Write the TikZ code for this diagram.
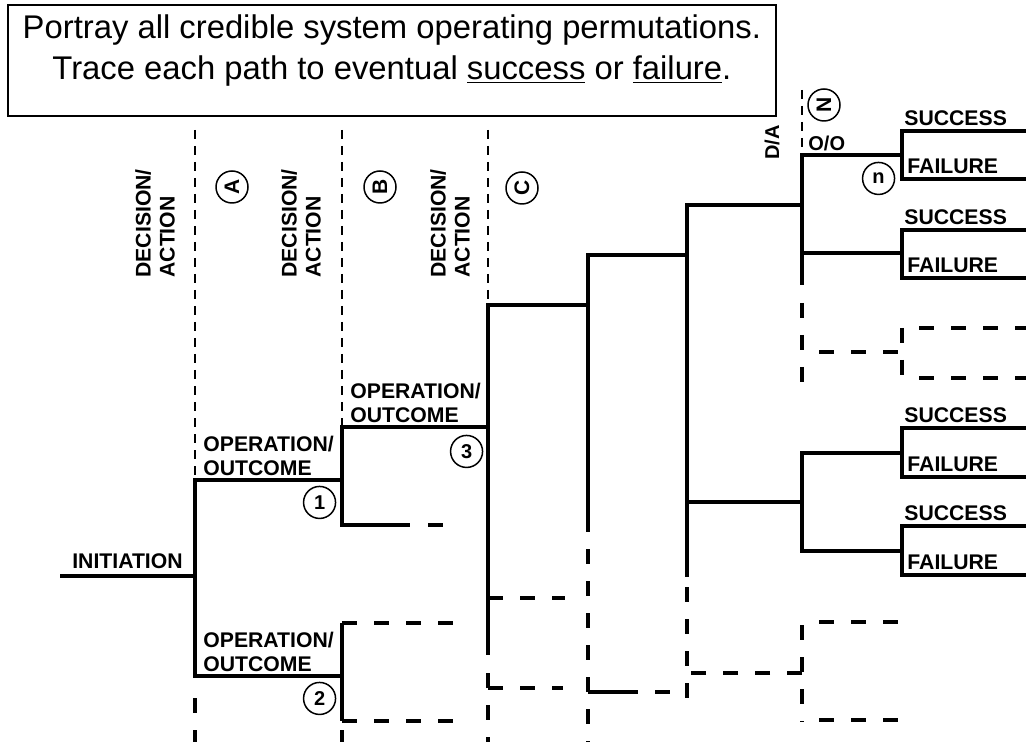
\documentclass[tikz,border=0pt]{standalone}
\usepackage{fontspec}
\setmainfont{Liberation Sans}
\usetikzlibrary{positioning}

\begin{document}
\begin{tikzpicture}[x=0.5pt, y=-0.5pt, every node/.style={font=\fontsize{10.6}{12}\selectfont\bfseries, inner sep=1pt}]
\tikzstyle{branch}=[line width=2pt]
\tikzstyle{cont}=[line width=2pt, dash pattern=on 7.5pt off 8.5pt]
\tikzstyle{guide}=[line width=1.2pt, dash pattern=on 4.5pt off 3.5pt]
\tikzstyle{num}=[draw, circle, line width=0.75pt, minimum size=16pt, inner sep=0pt, font=\fontsize{10}{10}\selectfont\bfseries]
\tikzstyle{letter}=[num, rotate=90, font=\fontsize{10.5}{10.5}\selectfont\bfseries]
\tikzstyle{dalabel}=[rotate=90, anchor=west, align=left]
\tikzstyle{oplabel}=[align=left]
\useasboundingbox (0,0) rectangle (1026,742);

% note box
\node[draw, line width=0.9pt, anchor=north west, minimum width=384pt, minimum height=55.5pt, inner sep=0pt] (note) at (7,4) {};
\node[below=4pt of note.north, align=center, font=\fontsize{16.4}{20.5}\selectfont] (title) {Portray all credible system operating permutations.\\Trace each path to eventual \underline{success} or \underline{failure}.};

% branch points
\coordinate (init) at (60,576);
\coordinate (dA) at (195,576);
\coordinate (oA1) at (195,480);
\coordinate (oA2) at (195,676);
\coordinate (dB1) at (342,480);
\coordinate (dB2) at (342,676);
\coordinate (oB1) at (342,427);
\coordinate (oB2) at (342,525);
\coordinate (oB3) at (342,623);
\coordinate (oB4) at (342,721);
\coordinate (dC) at (488,427);
\coordinate (oC) at (488,305);
\coordinate (dD) at (588,305);
\coordinate (oD) at (588,255);
\coordinate (dE) at (687,255);
\coordinate (oE) at (687,205);
\coordinate (dN1) at (802,205);
\coordinate (dN2) at (802,502);
\coordinate (oN1) at (802,155);
\coordinate (oN2) at (802,253);
\coordinate (oN3) at (802,453);
\coordinate (oN4) at (802,551);
\coordinate (sA) at (902,155);
\coordinate (sB) at (902,253);
\coordinate (sC) at (902,352);
\coordinate (sD) at (902,453);
\coordinate (sE) at (902,551);

% stage lines and labels
\draw[guide] (195,130) -- (oA1);
\draw[guide] (342,130) -- (oB1);
\draw[guide] (488,130) -- (oC);
\draw[guide] (802,90) -- (oN1);
\node[dalabel] (daA) at (155,280) {DECISION/\\ACTION};
\node[dalabel] (daB) at (301,280) {DECISION/\\ACTION};
\node[dalabel] (daC) at (450,280) {DECISION/\\ACTION};
\node[dalabel, font=\fontsize{10}{12}\selectfont\bfseries] (daN) at (772,162) {D/A};
\node[letter] (stA) at (232,187) {A};
\node[letter] (stB) at (380,187) {B};
\node[letter] (stC) at (522,188) {C};
\node[letter] (stN) at (824,105) {N};

% first stages
\draw[branch] (init) -- node[above=1.5pt] (ini) {INITIATION} (dA);
\draw[branch] (dB1) -- (oA1) -- (oA2) -- (dB2);
\node[oplabel, above right=1pt and 3pt of oA1] (opA1) {OPERATION/\\OUTCOME};
\node[oplabel, above right=1pt and 3pt of oA2] (opA2) {OPERATION/\\OUTCOME};
\node[num, below left=5.3pt and 5.3pt of dB1] (n1) {1};
\node[num, below left=5.3pt and 5.3pt of dB2] (n2) {2};
\draw[cont] (195,698) -- (195,745);

\draw[branch] (dC) -- (oB1) -- (oB2) -- ++(68,0);
\draw[cont] (428,525) -- ++(16,0);
\node[oplabel, above right=1pt and 3pt of oB1] (opB) {OPERATION/\\OUTCOME};
\node[num, below left=6.3pt and 4.8pt of dC] (n3) {3};
\draw[branch] (oB3) -- (oB4);
\draw[cont] (oB3) -- ++(116,0);
\draw[cont] (oB4) -- ++(116,0);
\draw[cont] (342,730) -- (342,745);

\draw[branch] (dD) -- (oC) -- (488,655);
\draw[cont] (488,598) -- ++(77,0);
\draw[cont] (488,688) -- (488,673);
\draw[cont] (488,688) -- ++(75,0);
\draw[cont] (488,705) -- (488,745);

\draw[branch] (dE) -- (oD) -- (588,532);
\draw[cont, dash phase=7.5pt] (588,532) -- (588,745);
\draw[branch] (588,692) -- ++(50,0);
\draw[cont] (655,692) -- ++(15,0);

\draw[branch] (dN1) -- (oE) -- (687,577);
\draw[branch] (687,502) -- (dN2);
\draw[cont, dash phase=11pt] (687,577) -- (687,702);
\draw[cont] (802,673) -- (687,673);

% last stage
\draw[branch] (sA) -- (oN1) -- (802,285);
\draw[branch] (oN2) -- (sB);
\node[above right=1pt and 2pt of oN1, font=\fontsize{10}{12}\selectfont\bfseries] (oo) {O/O};
\node[num, below left=5.8pt and 5.8pt of sA] (nn) {n};
\draw[cont, dash phase=8pt] (802,287) -- (802,387);
\draw[cont, dash phase=7.5pt] (802,352) -- (sC);
\draw[branch] (sD) -- (oN3) -- (oN4) -- (sE);
\draw[cont, dash phase=7.5pt] (802,622) -- (902,622);
\draw[cont] (802,625) -- (802,722);
\draw[cont, dash phase=7.5pt] (802,720) -- (902,720);

% outcomes
\draw[branch] (1030,131) -- (902,131) -- (902,179) -- (1030,179);
\node[anchor=south west] (sucA) at (902,128) {SUCCESS};
\node[anchor=south west] (failA) at (905,176) {FAILURE};
\draw[branch] (1030,230) -- (902,230) -- (902,278) -- (1030,278);
\node[anchor=south west] (sucB) at (902,227) {SUCCESS};
\node[anchor=south west] (failB) at (905,275) {FAILURE};
\draw[cont] (902,328) -- (902,378);
\draw[cont, dash phase=7.5pt] (902,328) -- (1030,328);
\draw[cont, dash phase=7.5pt] (902,378) -- (1030,378);
\draw[branch] (1030,428) -- (902,428) -- (902,477) -- (1030,477);
\node[anchor=south west] (sucD) at (902,425) {SUCCESS};
\node[anchor=south west] (failD) at (905,474) {FAILURE};
\draw[branch] (1030,526) -- (902,526) -- (902,575) -- (1030,575);
\node[anchor=south west] (sucE) at (902,523) {SUCCESS};
\node[anchor=south west] (failE) at (905,572) {FAILURE};
\end{tikzpicture}
\end{document}
